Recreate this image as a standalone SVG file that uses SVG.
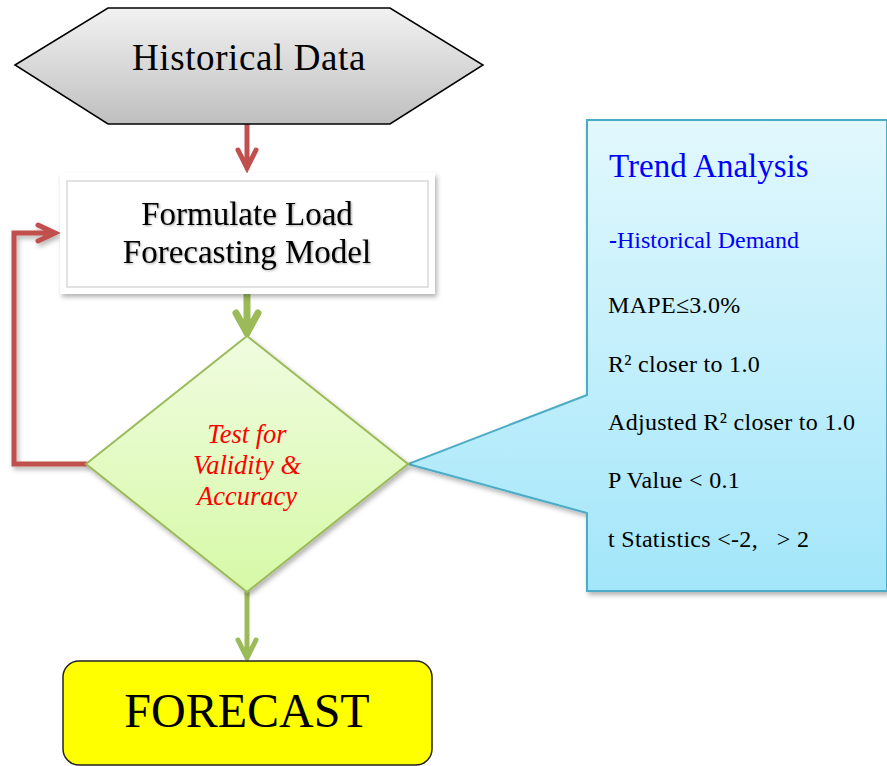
<svg xmlns="http://www.w3.org/2000/svg" width="887" height="766" viewBox="0 0 887 766">
<defs>
<linearGradient id="gHex" x1="0" y1="0" x2="0" y2="1"><stop offset="0" stop-color="#f2f2f2"/><stop offset="1" stop-color="#bfbfbf"/></linearGradient>
<linearGradient id="gDia" x1="0" y1="0" x2="0" y2="1"><stop offset="0" stop-color="#f0fce0"/><stop offset="1" stop-color="#d6f9a6"/></linearGradient>
<linearGradient id="gCall" x1="0" y1="0" x2="0" y2="1"><stop offset="0" stop-color="#e2f8fd"/><stop offset="1" stop-color="#a3e6fa"/></linearGradient>
<filter id="sh" x="-10%" y="-10%" width="125%" height="125%"><feDropShadow dx="2" dy="3" stdDeviation="2.5" flood-color="#000" flood-opacity="0.3"/></filter>
<filter id="tsh" x="-5%" y="-5%" width="115%" height="130%"><feDropShadow dx="1" dy="1" stdDeviation="0.8" flood-color="#000" flood-opacity="0.35"/></filter>
</defs>
<style>
.serif{font-family:"Liberation Serif","DejaVu Serif",serif}
.red{stroke:#c0504d;fill:none;stroke-width:5;stroke-linecap:round;stroke-linejoin:miter}
.grn{stroke:#9bbb59;fill:none;stroke-linecap:round;stroke-linejoin:round}
.ct{font-family:"Liberation Serif","DejaVu Serif",serif;font-size:24px;letter-spacing:0.3px;fill:#000}
</style>
<g id="connectors">
<path class="red" d="M247,124 V168 M238,150 L247,168 L256,150" stroke-linecap="butt"/>
<path class="red" d="M86,464 H14 V233 H55 M38,225 L55,233 L38,241" filter="url(#sh)"/>
<path class="grn" stroke-width="7" d="M247,295 V333 M236,313 L247,333 L258,313"/>
<path class="grn" stroke-width="5" d="M247,592 V658 M238,640 L247,658 L256,640"/>
</g>
<g id="historical">
<polygon points="15,65 108,8 390,8 483,65 390,124 108,124" fill="url(#gHex)" stroke="#000" stroke-width="1.5"/>
<text class="serif" x="249" y="70" font-size="37" letter-spacing="0.6" text-anchor="middle">Historical Data</text>
</g>
<g id="formulate">
<rect x="60" y="173" width="375" height="121" fill="#fff" filter="url(#sh)"/>
<rect x="67" y="181" width="361" height="106" fill="#fff" stroke="#d9d9d9" stroke-width="1.5"/>
<g filter="url(#tsh)">
<text class="serif" x="247" y="225" font-size="33" text-anchor="middle">Formulate Load</text>
<text class="serif" x="247" y="263" font-size="33" text-anchor="middle">Forecasting Model</text>
</g>
</g>
<g id="callout">
<path d="M587,120 H887 V591 H587 V513 L408,464 L587,395 Z" fill="url(#gCall)" stroke="#4bacc6" stroke-width="2" filter="url(#sh)"/>
<text class="serif" x="609" y="177" font-size="33" fill="#0000ff">Trend Analysis</text>
<text class="serif" x="609" y="248" font-size="24" fill="#0000ff"><tspan font-weight="bold">-</tspan>Historical Demand</text>
<text class="ct" x="608" y="313">MAPE≤3.0%</text>
<text class="ct" x="608" y="372">R² closer to 1.0</text>
<text class="ct" x="608" y="430">Adjusted R² closer to 1.0</text>
<text class="ct" x="608" y="488">P Value &lt; 0.1</text>
<text class="ct" x="608" y="547" xml:space="preserve">t Statistics &lt;-2,   &gt; 2</text>
</g>
<g id="test">
<polygon points="247,336 408,464 247,592 86,464" fill="url(#gDia)" stroke="#9bbb59" stroke-width="2" filter="url(#sh)"/>
<text class="serif" font-style="italic" font-size="26.5" fill="#ff0000" text-anchor="middle"><tspan x="247" y="443">Test for</tspan><tspan x="247" y="474">Validity &amp;</tspan><tspan x="247" y="505">Accuracy</tspan></text>
</g>
<g id="forecast">
<rect x="63" y="661" width="369" height="104" rx="16" fill="#ffff00" stroke="#222" stroke-width="1.5"/>
<text class="serif" x="247" y="727" font-size="48" text-anchor="middle">FORECAST</text>
</g>
</svg>
